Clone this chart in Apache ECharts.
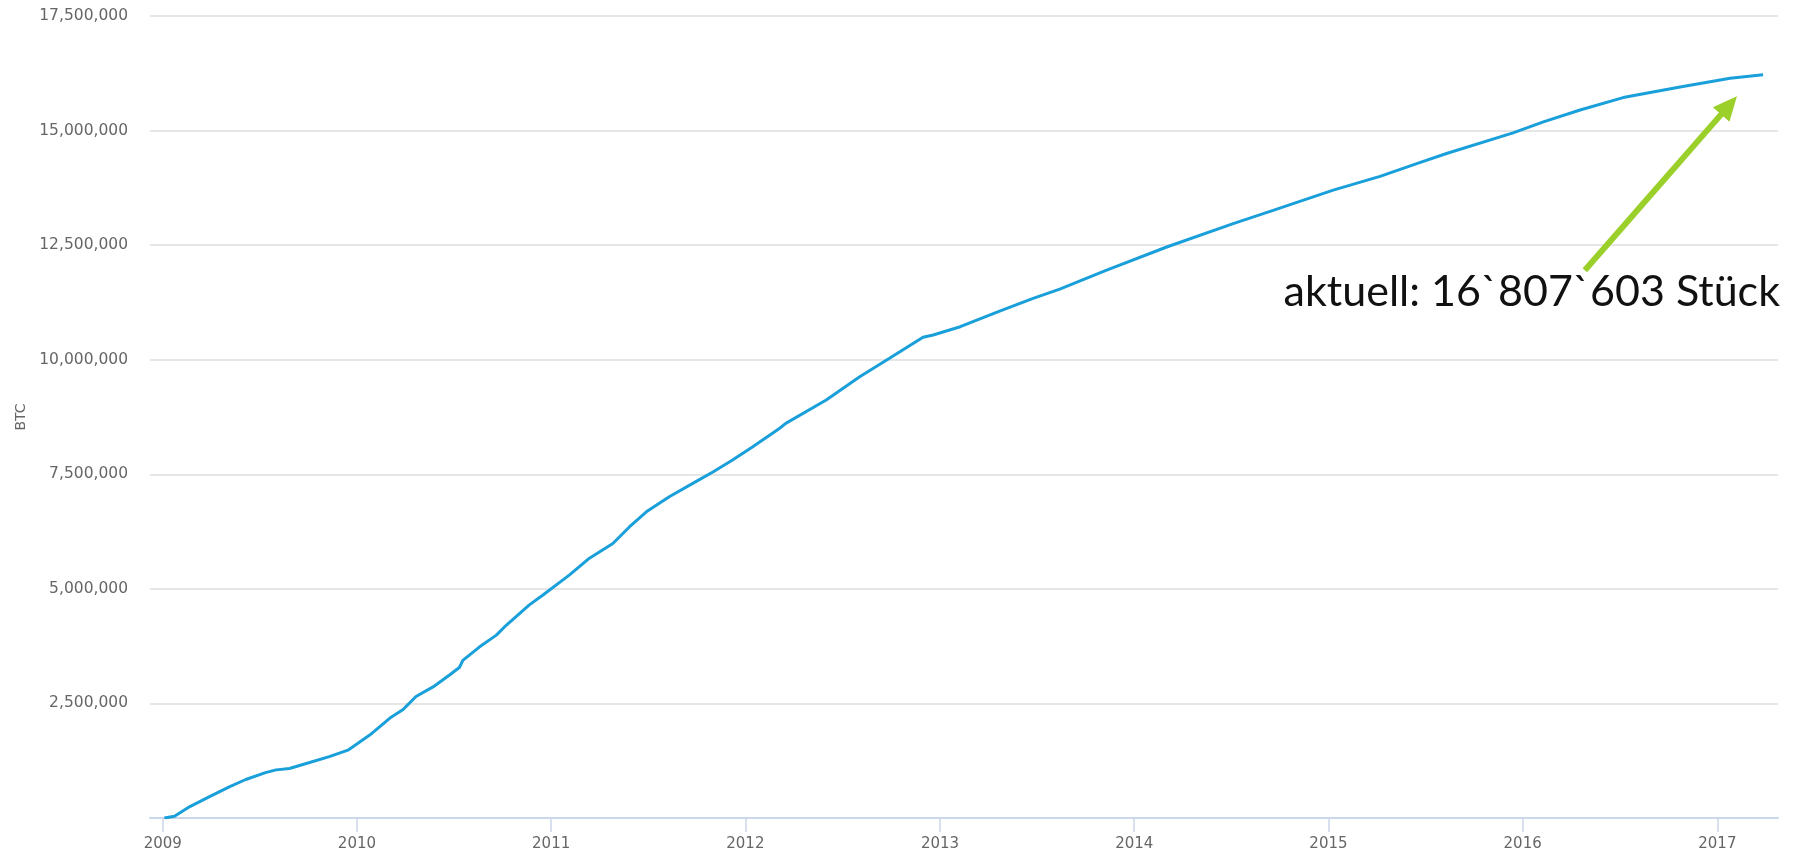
<!DOCTYPE html>
<html>
<head>
<meta charset="utf-8">
<script src="https://cdn.jsdelivr.net/npm/echarts@6/dist/echarts.min.js"></script>
<style>
html,body{margin:0;padding:0;background:#fff;}
#chart{width:1794px;height:853px;}
</style>
</head>
<body>
<div id="chart"></div>
<script>
// Bitcoin supply (BTC) over time
const dates = [
  '2009-01-04','2009-01-23','2009-02-21','2009-03-29','2009-05-06','2009-06-06',
  '2009-07-13','2009-08-02','2009-08-27','2009-10-04','2009-11-10','2009-12-15',
  '2010-01-25','2010-03-04','2010-03-28','2010-04-22','2010-05-24','2010-06-24',
  '2010-07-13','2010-07-19','2010-08-19','2010-09-20','2010-10-09','2010-11-21',
  '2010-12-16','2011-02-04','2011-03-14','2011-04-27','2011-05-28','2011-06-29',
  '2011-08-11','2011-09-30','2011-11-01','2011-12-08','2012-01-15','2012-03-05',
  '2012-03-17','2012-06-01','2012-08-03','2012-09-28','2012-11-30','2012-12-19',
  '2013-02-08','2013-04-23','2013-06-25','2013-08-14','2013-11-09','2014-03-03',
  '2014-07-06','2014-09-19','2015-01-10','2015-04-08','2015-06-16','2015-08-11',
  '2015-12-14','2016-02-09','2016-04-18','2016-07-08','2016-10-23','2017-01-25',
  '2017-03-28'
];
const btc = [
  0, 40000, 250000, 460000, 680000, 840000,
  990000, 1050000, 1080000, 1210000, 1340000, 1480000,
  1810000, 2180000, 2360000, 2650000, 2860000, 3120000,
  3290000, 3440000, 3730000, 3990000, 4210000, 4650000,
  4860000, 5300000, 5670000, 5990000, 6350000, 6680000,
  7010000, 7340000, 7550000, 7810000, 8100000, 8500000,
  8610000, 9120000, 9630000, 10030000, 10490000, 10540000,
  10720000, 11060000, 11340000, 11540000, 11950000, 12460000,
  12970000, 13260000, 13700000, 14000000, 14280000, 14500000,
  14950000, 15190000, 15450000, 15720000, 15950000, 16140000,
  16220000
];
// y-axis ticks
const yTicks = [0, 2500000, 5000000, 7500000, 10000000, 12500000, 15000000, 17500000];
// annotation
const annotationText = 'aktuell: 16`807`603 Stück';
const arrowFrom = ['2016-04-27', 11950000];
const arrowTo = ['2017-01-23', 15550000];
const xRange = ['2008-12-08', '2017-04-25'];

const chart = echarts.init(document.getElementById('chart'), null, {renderer: 'canvas'});
const fmt = v => v.toLocaleString('en-US');
const labelFont = "'DejaVu Sans', 'Open Sans', sans-serif";

chart.setOption({
  animation: false,
  backgroundColor: '#ffffff',
  grid: {left: 150, right: 16, top: 16, bottom: 35, containLabel: false},
  xAxis: {
    type: 'time',
    min: xRange[0],
    max: xRange[1],
    minInterval: 365 * 86400000,
    axisLine: {show: true, lineStyle: {color: '#ccd6eb', width: 2}},
    axisTick: {show: true, length: 14, lineStyle: {color: '#ccd6eb', width: 1.5}},
    splitLine: {show: false},
    axisLabel: {
      color: '#666666', fontSize: 15, fontFamily: labelFont, margin: 19,
      formatter: v => String(new Date(v).getFullYear())
    }
  },
  yAxis: {
    type: 'value',
    min: yTicks[0],
    max: yTicks[yTicks.length - 1],
    interval: yTicks[1] - yTicks[0],
    name: 'BTC',
    nameLocation: 'middle',
    nameGap: 121,
    nameTextStyle: {color: '#666666', fontSize: 14, fontFamily: labelFont},
    axisLine: {show: false},
    axisTick: {show: false},
    splitLine: {lineStyle: {color: '#dedede', width: 1.5}},
    axisLabel: {
      color: '#666666', fontSize: 15.5, fontFamily: labelFont, margin: 22,
      showMinLabel: false,
      formatter: v => v === 0 ? '' : fmt(v)
    }
  },
  series: [{
    type: 'line',
    data: dates.map((d, i) => [d, btc[i]]),
    showSymbol: false,
    symbol: 'none',
    lineStyle: {color: '#199fd9', width: 3},
    itemStyle: {color: '#199fd9'},
    markLine: {
      silent: true,
      symbol: ['none', 'triangle'],
      symbolSize: [22, 24],
      label: {show: false},
      lineStyle: {color: '#9bcf2a', width: 6, type: 'solid'},
      data: [[{coord: arrowFrom}, {coord: arrowTo}]]
    }
  }],
  graphic: [{
    type: 'text',
    right: 14,
    top: 271,
    style: {
      text: annotationText,
      fill: '#111111',
      font: "400 43px Lato, 'Noto Sans', sans-serif"
    }
  }]
});
</script>
</body>
</html>
